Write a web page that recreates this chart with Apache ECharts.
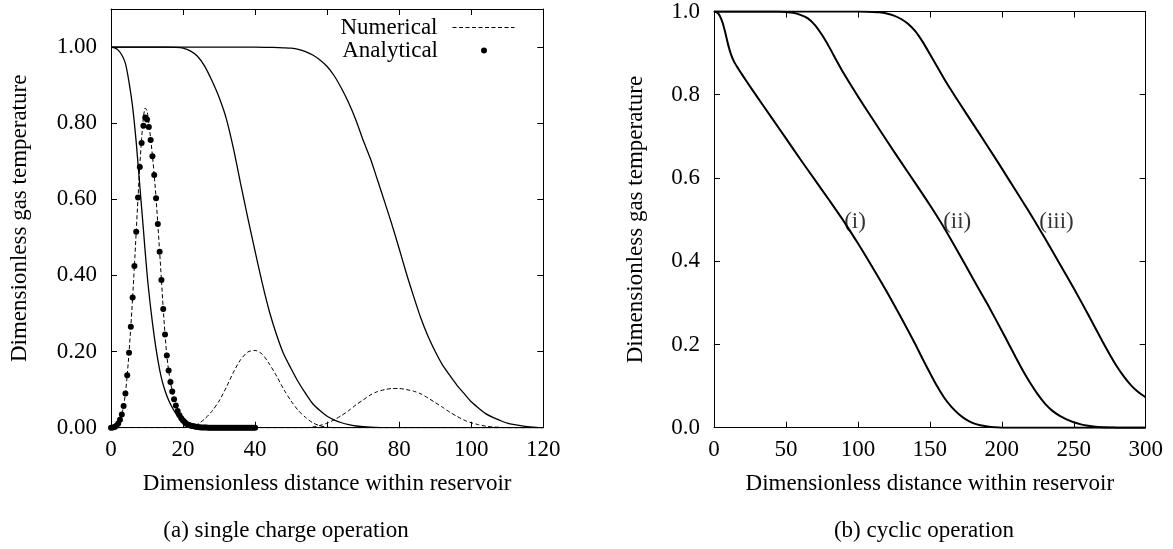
<!DOCTYPE html>
<html>
<head>
<meta charset="utf-8">
<script src="https://cdn.jsdelivr.net/npm/echarts@6/dist/echarts.min.js"></script>
<style>html,body{margin:0;padding:0;background:#fff}#c{width:1173px;height:549px}</style>
</head>
<body>
<div id="c"></div>
<script>
// ---------- (a) single charge operation ----------
const aSolid1X = [0,1,2,3,4,5,6,7,8,9,10,11,12,13,14,15,16,17,18,19,20,22,24,26,28,30,35,40,60,80,100,120];
const aSolid1Y = [1,0.998,0.992,0.979,0.957,0.908,0.843,0.75,0.635,0.52,0.405,0.315,0.24,0.178,0.13,0.097,0.072,0.053,0.037,0.026,0.018,0.008,0.003,0.0012,0.0004,0,0,0,0,0,0,0];

const aSolid2X = [0,5,10,15,18,20,22,24,26,28,30,32,34,36,38,40,42,44,46,48,50,52,54,56,58,60,62,64,66,68,70,72,75,80,90,100,110,120];
const aSolid2Y = [1,1,1,1,0.999,0.997,0.99,0.976,0.95,0.912,0.868,0.812,0.733,0.64,0.55,0.463,0.379,0.304,0.243,0.192,0.155,0.12,0.09,0.063,0.045,0.03,0.02,0.013,0.008,0.0045,0.0025,0.0012,0.0004,0,0,0,0,0];

const aSolid3X = [0,10,20,30,40,45,48,50,52,54,56,58,60,62,64,66,68,70,72,74,76,78,80,82,84,86,88,90,92,94,96,98,100,102,104,106,108,110,112,115,118,120];
const aSolid3Y = [1,1,1,1,1,0.999,0.998,0.997,0.994,0.988,0.979,0.966,0.949,0.924,0.891,0.853,0.808,0.755,0.707,0.65,0.592,0.533,0.47,0.405,0.345,0.288,0.24,0.2,0.165,0.138,0.112,0.09,0.068,0.052,0.037,0.027,0.019,0.012,0.008,0.0035,0.001,0.0003];

const aNum1X = [0,0.5,1,1.5,2,2.5,3,3.5,4,4.5,5,5.5,6,6.5,7,7.5,8,8.5,9,9.5,10,10.5,11,11.5,12,12.5,13,13.5,14,14.5,15,15.5,16,16.5,17,17.5,18,18.5,19,19.5,20,21,22,23,24,25,27,30,35,40,60,80,100,120];
const aNum1Y = [0,0.0005,0.002,0.005,0.011,0.021,0.035,0.057,0.09,0.138,0.197,0.265,0.342,0.425,0.515,0.605,0.69,0.76,0.815,0.84,0.832,0.8,0.76,0.715,0.664,0.603,0.535,0.462,0.388,0.312,0.245,0.19,0.15,0.12,0.095,0.075,0.058,0.044,0.033,0.025,0.019,0.01,0.006,0.0035,0.0018,0.0008,0.0002,0,0,0,0,0,0,0];

const aNum2X = [0,5,10,15,20,22,24,26,28,30,32,34,36,38,40,42,44,46,48,50,52,54,56,58,60,62,65,70,80,100,120];
const aNum2Y = [0,0,0,0,0,0.002,0.009,0.023,0.043,0.07,0.106,0.146,0.179,0.199,0.203,0.193,0.167,0.135,0.1,0.07,0.045,0.027,0.013,0.005,0.0015,0,0,0,0,0,0];

const aNum3X = [0,10,20,30,40,50,54,56,58,60,62,64,66,68,70,72,74,76,78,80,82,84,86,88,90,92,94,96,98,100,102,104,106,108,110,115,120];
const aNum3Y = [0,0,0,0,0,0,0,0.002,0.006,0.012,0.021,0.032,0.045,0.06,0.073,0.086,0.095,0.1,0.103,0.103,0.1,0.096,0.089,0.078,0.066,0.054,0.041,0.03,0.02,0.013,0.008,0.004,0.002,0.001,0,0,0];

const aAnaX = [0,0.5,1,1.5,2,2.5,3,3.5,4,4.5,5,5.5,6,6.5,7,7.5,8,8.5,9,9.5,10,10.5,11,11.5,12,12.5,13,13.5,14,14.5,15,15.5,16,16.5,17,17.5,18,18.5,19,19.5,20,20.5,21,21.5,22,22.5,23,23.5,24,24.5,25,25.5,26,26.5,27,27.5,28,28.5,29,29.5,30,30.5,31,31.5,32,32.5,33,33.5,34,34.5,35,35.5,36,36.5,37,37.5,38,38.5,39,39.5,40];
const aAnaY = [0,0.0005,0.002,0.005,0.011,0.021,0.035,0.057,0.09,0.138,0.197,0.265,0.342,0.425,0.515,0.605,0.685,0.748,0.793,0.815,0.81,0.79,0.756,0.713,0.664,0.603,0.535,0.462,0.388,0.312,0.245,0.19,0.15,0.12,0.095,0.075,0.058,0.044,0.033,0.025,0.019,0.014,0.01,0.008,0.006,0.0045,0.0035,0.0025,0.0018,0.0012,0.0008,0.0005,0.0003,0.0002,0.0001,0,0,0,0,0,0,0,0,0,0,0,0,0,0,0,0,0,0,0,0,0,0,0,0,0,0];

// ---------- (b) cyclic operation ----------
const b1X = [0,2,4,6,8,10,12,14,17,20,25,30,40,50,60,70,80,90,100,110,120,130,140,145,150,155,160,165,170,175,180,185,190,195,200,210,220,240,260,280,300];
const b1Y = [1,0.998,0.99,0.973,0.947,0.918,0.895,0.879,0.862,0.846,0.82,0.795,0.745,0.695,0.645,0.596,0.547,0.497,0.443,0.386,0.327,0.265,0.2,0.165,0.132,0.1,0.072,0.05,0.033,0.02,0.011,0.006,0.003,0.001,0,0,0,0,0,0,0];

const b2X = [0,10,20,30,40,45,50,55,60,65,70,75,80,85,90,95,100,110,120,130,140,150,160,170,180,190,200,205,210,215,220,225,230,235,240,245,250,255,260,265,270,275,280,290,300];
const b2Y = [1,1,1,1,1,1,0.999,0.997,0.992,0.984,0.968,0.944,0.915,0.883,0.852,0.824,0.796,0.743,0.69,0.638,0.587,0.535,0.48,0.42,0.358,0.297,0.233,0.2,0.167,0.135,0.106,0.08,0.058,0.041,0.029,0.02,0.013,0.008,0.0045,0.0022,0.001,0.0004,0.0001,0,0];

const b3X = [0,20,40,60,80,90,100,110,115,120,125,130,135,140,145,150,155,160,165,170,180,190,200,210,220,230,240,250,260,270,275,280,285,290,295,300];
const b3Y = [1,1,1,1,1,1,1,0.999,0.998,0.995,0.99,0.982,0.97,0.952,0.927,0.898,0.868,0.838,0.81,0.783,0.73,0.677,0.623,0.568,0.513,0.455,0.395,0.335,0.272,0.207,0.176,0.147,0.122,0.101,0.085,0.073];

const bLabelText = ['(i)','(ii)','(iii)'];
const bLabelX = [98,169,238];
const bLabelY = [0.494,0.494,0.494];

const xTitle = 'Dimensionless distance within reservoir';
const yTitle = 'Dimensionless gas temperature';
const captionA = '(a) single charge operation';
const captionB = '(b) cyclic operation';

// ---------- build ----------
const FONT = 'Liberation Serif, DejaVu Serif, serif';
const FS = 23;
const pts = (xs, ys) => xs.map((x, i) => [x, ys[i]]);

function baseAxis(extra) {
  return Object.assign({
    type: 'value',
    axisLine: { show: true, onZero: false, lineStyle: { color: '#000', width: 1 } },
    axisTick: { show: true, inside: true, length: 6, lineStyle: { color: '#000', width: 1 } },
    splitLine: { show: false },
    axisLabel: { color: '#000', fontFamily: FONT, fontSize: FS, margin: 11 },
    nameTextStyle: { color: '#000', fontFamily: FONT, fontSize: FS }
  }, extra);
}
function mirror(extra) {
  const a = baseAxis(extra);
  a.axisLabel = { show: false };
  return a;
}

const chart = echarts.init(document.getElementById('c'), null, { renderer: 'canvas' });

const SM = 0.25;
const solidA = { color: '#000', width: 1.3 };
const dashA = { color: '#000', width: 1, type: [4, 2.5] };
const solidB = { color: '#000', width: 2 };

function lineS(xi, xs, ys, style, name) {
  const s = { type: 'line', xAxisIndex: xi, yAxisIndex: xi, data: pts(xs, ys), showSymbol: false,
    symbol: 'none', smooth: SM, lineStyle: style, itemStyle: { color: '#000' } };
  if (name) s.name = name;
  return s;
}

chart.setOption({
  animation: false,
  backgroundColor: '#fff',
  grid: [
    { left: 111, right: 1173 - 543.3, top: 9, bottom: 549 - 427.7 },
    { left: 714, right: 1173 - 1145.7, top: 9.3, bottom: 549 - 427.7 }
  ],
  legend: [
    { data: ['Numerical'], right: 658, top: 16, padding: 0, align: 'right', itemWidth: 62, itemHeight: 14,
      itemStyle: { opacity: 0, borderWidth: 0 },
      lineStyle: { type: [4, 2.5], width: 1, color: '#000' },
      textStyle: { color: '#000', fontFamily: FONT, fontSize: FS, padding: [0, 10, 0, 0] }, selectedMode: false },
    { data: ['Analytical'], right: 686, top: 39, padding: 0, align: 'right', itemWidth: 6, itemHeight: 6,
      itemStyle: { opacity: 1, color: '#000' },
      textStyle: { color: '#000', fontFamily: FONT, fontSize: FS, padding: [0, 38, 0, 0] }, selectedMode: false }
  ],
  xAxis: [
    baseAxis({ gridIndex: 0, min: 0, max: 120, interval: 20, position: 'bottom',
      name: xTitle, nameLocation: 'middle', nameGap: 45 }),
    mirror({ gridIndex: 0, min: 0, max: 120, interval: 20, position: 'top' }),
    baseAxis({ gridIndex: 1, min: 0, max: 300, interval: 50, position: 'bottom',
      name: xTitle, nameLocation: 'middle', nameGap: 45 }),
    mirror({ gridIndex: 1, min: 0, max: 300, interval: 50, position: 'top' })
  ],
  yAxis: [
    baseAxis({ gridIndex: 0, min: 0, max: 1.1, interval: 0.2, position: 'left',
      name: yTitle, nameLocation: 'middle', nameGap: 80,
      axisLabel: { color: '#000', fontFamily: FONT, fontSize: FS, margin: 14,
        formatter: v => (v > 1.0001 ? '' : v.toFixed(2)) } }),
    mirror({ gridIndex: 0, min: 0, max: 1.1, interval: 0.2, position: 'right' }),
    baseAxis({ gridIndex: 1, min: 0, max: 1, interval: 0.2, position: 'left',
      name: yTitle, nameLocation: 'middle', nameGap: 67,
      axisLabel: { color: '#000', fontFamily: FONT, fontSize: FS, margin: 14,
        formatter: v => v.toFixed(1) } }),
    mirror({ gridIndex: 1, min: 0, max: 1, interval: 0.2, position: 'right' })
  ],
  series: [
    lineS(0, aSolid1X, aSolid1Y, solidA),
    lineS(0, aSolid2X, aSolid2Y, solidA),
    lineS(0, aSolid3X, aSolid3Y, solidA),
    lineS(0, aNum1X, aNum1Y, dashA, 'Numerical'),
    lineS(0, aNum2X, aNum2Y, dashA, 'Numerical'),
    lineS(0, aNum3X, aNum3Y, dashA, 'Numerical'),
    { name: 'Analytical', type: 'scatter', xAxisIndex: 0, yAxisIndex: 0, data: pts(aAnaX, aAnaY),
      symbol: 'circle', symbolSize: 6, itemStyle: { color: '#000', opacity: 1 } },

    lineS(2, b1X, b1Y, solidB),
    lineS(2, b2X, b2Y, solidB),
    lineS(2, b3X, b3Y, solidB),
    { type: 'scatter', xAxisIndex: 2, yAxisIndex: 2, silent: true, symbolSize: 0,
      data: bLabelX.map((x, i) => [x, bLabelY[i], bLabelText[i]]),
      label: { show: true, position: 'inside', color: '#000', fontFamily: FONT, fontSize: FS, formatter: p => p.data[2] } }
  ],
  graphic: [
    { type: 'text', x: 286, y: 531, style: { text: captionA, fill: '#000', font: FS + 'px ' + FONT, align: 'center', verticalAlign: 'middle' } },
    { type: 'text', x: 924, y: 531, style: { text: captionB, fill: '#000', font: FS + 'px ' + FONT, align: 'center', verticalAlign: 'middle' } }
  ]
});
</script>
</body>
</html>
